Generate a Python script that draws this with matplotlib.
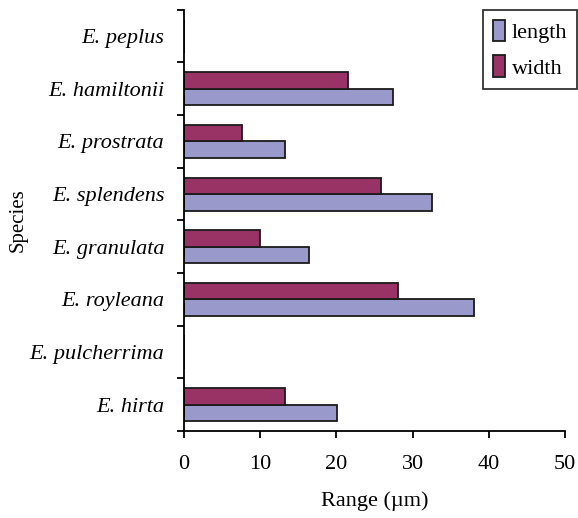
import numpy as np
import matplotlib
matplotlib.use("Agg")
import matplotlib.pyplot as plt

# data (bottom to top)
species = ["E. hirta", "E. pulcherrima", "E. royleana", "E. granulata",
           "E. splendens", "E. prostrata", "E. hamiltonii", "E. peplus"]
length = [20.1, 0, 38.1, 16.4, 32.5, 13.3, 27.4, 0]
width = [13.3, 0, 28.1, 10.0, 25.8, 7.6, 21.5, 0]

plt.rcParams['font.family'] = ['Liberation Serif', 'DejaVu Serif']

fig = plt.figure(figsize=(5.78, 5.18), dpi=100)
ax = fig.add_axes([0.318, 0.168, 0.66, 0.813])

y = np.arange(len(species))
h = 0.315
ax.barh(y - h / 2, length, height=h, color='#9999cc', edgecolor='#1a1a1a',
        linewidth=1.3, label='length')
ax.barh(y + h / 2, width, height=h, color='#993366', edgecolor='#1a1a1a',
        linewidth=1.3, label='width')

ax.set_xlim(0, 50)
ax.set_ylim(-0.5, len(species) - 0.5)
ax.set_xticks([0, 10, 20, 30, 40, 50])
ax.set_yticks(np.arange(len(species) + 1) - 0.5)
ax.set_yticklabels([])
ax.set_yticks(y, minor=True)
ax.set_yticklabels(species, minor=True, fontstyle='italic', fontsize=16)
ax.tick_params(axis='y', which='minor', length=0, pad=14)
ax.tick_params(axis='y', which='major', length=5, width=1.3)
ax.tick_params(axis='x', length=5, width=1.3, labelsize=16, pad=12)

for s in ['top', 'right']:
    ax.spines[s].set_visible(False)
for s in ['left', 'bottom']:
    ax.spines[s].set_linewidth(1.3)

ax.set_xlabel('Range (\u00b5m)', fontsize=16, labelpad=13)
ax.set_ylabel('Species', fontsize=15)
ax.yaxis.set_label_coords(-0.41, 0.5)

leg = fig.legend(loc='upper right', bbox_to_anchor=(577 / 578, 1 - 10 / 518),
                 fontsize=16, frameon=True, fancybox=False, edgecolor='black',
                 handlelength=0.55, handleheight=1.1, handletextpad=0.3,
                 borderpad=0.45, labelspacing=0.55, borderaxespad=0)
leg.get_frame().set_linewidth(1.3)

fig.savefig('out.png', dpi=100)
